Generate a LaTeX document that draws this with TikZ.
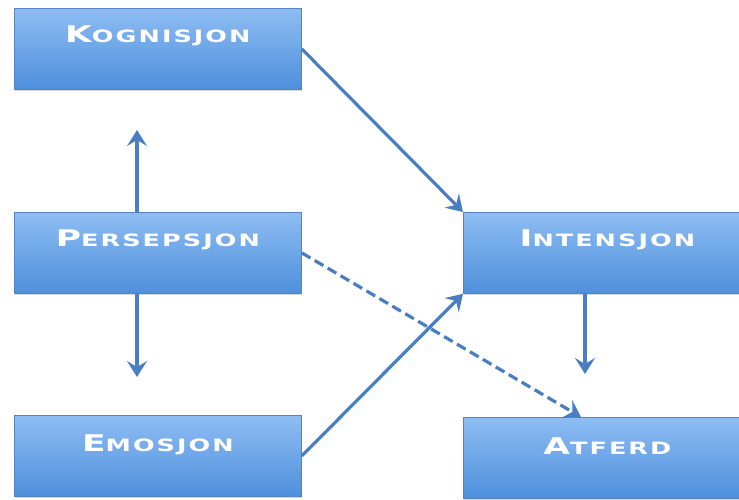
\documentclass[tikz,border=0pt]{standalone}
\usepackage{fontspec}
\usetikzlibrary{arrows.meta,shadows}
\newfontfamily\boxfont[FakeStretch=1.5,LetterSpace=12]{DejaVu Sans}
% caps-and-small-caps label: first letter large, the rest smaller
\newcommand{\sccaps}[2]{{\fontsize{23}{23}\selectfont #1}{\fontsize{17}{17}\selectfont #2}}
\definecolor{boxtop}{RGB}{142,189,243}
\definecolor{boxbot}{RGB}{78,143,220}
\definecolor{boxline}{RGB}{88,130,190}
\definecolor{arrowblue}{RGB}{74,126,194}
\tikzset{
  conceptbox/.style={draw=boxline, line width=0.8pt, top color=boxtop, bottom color=boxbot,
    minimum width=#1, minimum height=81pt, inner sep=0pt, anchor=north west,
    drop shadow={opacity=0.3, shadow xshift=1pt, shadow yshift=-2pt}},
  boxlabel/.style={text=white, font=\boxfont\bfseries, inner sep=0pt},
  link/.style={draw=arrowblue, line width=3.2pt, -{Stealth[length=16pt,width=20pt,inset=6pt]}},
  dashlink/.style={link, dash pattern=on 10pt off 5pt}
}
\begin{document}
\begin{tikzpicture}[x=1pt,y=-1pt]
\useasboundingbox[fill=white] (0,0) rectangle (739,499);

% boxes
\node[conceptbox=287pt] (kog) at (14,8) {};
\node[conceptbox=287pt] (per) at (14,212) {};
\node[conceptbox=287pt] (emo) at (14,415) {};
\node[conceptbox=278pt] (int) at (463,212) {};
\node[conceptbox=278pt] (atf) at (463,417) {};

% labels, set in the upper part of each box
\node[boxlabel] (kogt) at ([yshift=13pt]kog.center) {\sccaps{K}{OGNISJON}};
\node[boxlabel] (pert) at ([yshift=13pt]per.center) {\sccaps{P}{ERSEPSJON}};
\node[boxlabel] (emot) at ([yshift=11pt]emo.center) {\sccaps{E}{MOSJON}};
\node[boxlabel] (intt) at ([yshift=13pt,xshift=5pt]int.center) {\sccaps{I}{NTENSJON}};
\node[boxlabel] (atft) at ([yshift=12pt,xshift=5pt]atf.center) {\sccaps{A}{TFERD}};

% free arrow ends
\coordinate (uptip) at (137,130);
\coordinate (downtip) at (137,377);
\coordinate (inttip) at (585,374);
\coordinate (atftip) at (581,417);

% connectors
\draw[link] (per.north -| uptip) -- (uptip);
\draw[link] (per.south -| downtip) -- (downtip);
\draw[link] (kog.east) -- (int.north west);
\draw[link] (emo.east) -- (int.south west);
\draw[link] (int.south -| inttip) -- (inttip);
\draw[dashlink] (per.east) -- (atftip);
\end{tikzpicture}
\end{document}
